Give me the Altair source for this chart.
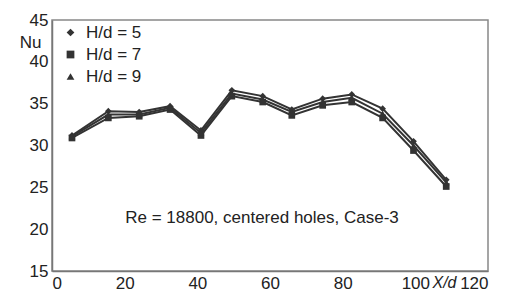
import altair as alt
import pandas as pd

x_vals = [5.5, 15.5, 24, 32.5, 41, 49.5, 58, 66, 74.5, 82.5, 91, 99.5, 108.5]
nu_hd5 = [31.2, 34.1, 34.0, 34.7, 31.8, 36.6, 35.9, 34.3, 35.6, 36.1, 34.4, 30.5, 25.9]
nu_hd7 = [30.9, 33.3, 33.5, 34.3, 31.2, 35.9, 35.2, 33.6, 34.8, 35.2, 33.3, 29.4, 25.1]
nu_hd9 = [31.1, 33.7, 33.7, 34.5, 31.5, 36.2, 35.5, 34.0, 35.2, 35.7, 33.8, 30.0, 25.6]
series_names = ["H/d = 5", "H/d = 7", "H/d = 9"]
series_shapes = ["diamond", "square", "triangle-up"]
x_ticks = [0, 20, 40, 60, 80, 100, 120]
y_ticks = [15, 20, 25, 30, 35, 40, 45]
annotation = "Re = 18800, centered holes, Case-3"

rows = []
for name, vals in zip(series_names, [nu_hd5, nu_hd7, nu_hd9]):
    for xv, yv in zip(x_vals, vals):
        rows.append({"x": xv, "nu": yv, "series": name})
df = pd.DataFrame(rows)

FONT = "Liberation Sans"
INK = "#333333"

x_enc = alt.X("x:Q", scale=alt.Scale(domain=[0, 120], nice=False),
              axis=alt.Axis(values=x_ticks, title="X/d", titleFontStyle="italic",
                            titleFontWeight="normal", titleFontSize=16, titleFont=FONT,
                            titleX=392, titleY=16, titleBaseline="alphabetic",
                            titleAlign="center", titleColor="#222"))
y_enc = alt.Y("nu:Q", scale=alt.Scale(domain=[15, 45], nice=False),
              axis=alt.Axis(values=y_ticks, title="Nu", titleAngle=0,
                            titleFontWeight="normal", titleFontSize=17, titleFont=FONT,
                            titleX=-22, titleY=22, titleAlign="center",
                            titleBaseline="middle", titleColor="#222"))

lines = alt.Chart(df).mark_line(color=INK, strokeWidth=2).encode(
    x=x_enc, y=y_enc, detail="series:N")

points = alt.Chart(df).mark_point(filled=True, color=INK, opacity=1).encode(
    x="x:Q", y="nu:Q",
    shape=alt.Shape("series:N", scale=alt.Scale(domain=series_names, range=series_shapes),
                    legend=alt.Legend(title=None, orient="none", legendX=10, legendY=4,
                                      labelFontSize=17, labelFont=FONT, labelColor="#222",
                                      symbolSize=60, symbolFillColor=INK, symbolStrokeColor=INK,
                                      rowPadding=4, labelOffset=7)),
    size=alt.value(45))

label_df = pd.DataFrame({"t": [annotation]})
text = alt.Chart(label_df).mark_text(font=FONT, fontSize=17, color="#222",
                                    align="center", baseline="middle").encode(
    text="t:N", x=alt.value(210), y=alt.value(198))

chart = alt.layer(lines, points, text).properties(
    width=436, height=251,
    autosize=alt.AutoSizeParams(type="none"),
    padding={"left": 44, "top": 12, "right": 14, "bottom": 21},
).configure_view(stroke="#888888", strokeWidth=1.5).configure_axis(
    grid=False, ticks=False, domainColor="#777777", domainWidth=1.5,
    labelFont=FONT, labelFontSize=17, labelColor="#222", labelPadding=4,
)

chart.save("out.html", embed_options={"renderer": "svg", "actions": False})
